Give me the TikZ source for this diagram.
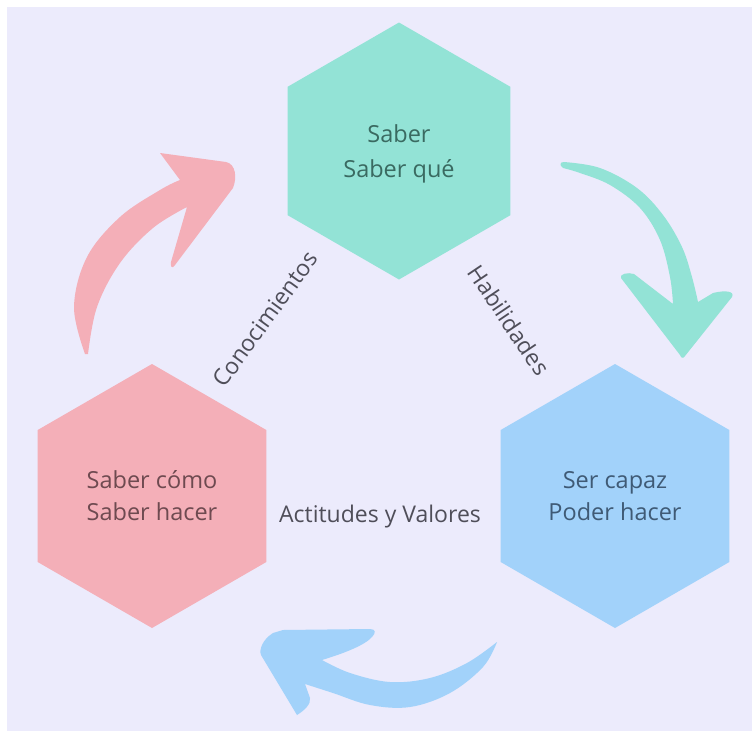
\documentclass[tikz,border=0pt]{standalone}
\usepackage{fontspec}
\setmainfont{Open Sans}
\usetikzlibrary{shapes.geometric}
\definecolor{bgc}{HTML}{ECEBFC}
\definecolor{tealc}{HTML}{93E3D6}
\definecolor{pinkc}{HTML}{F4AFB8}
\definecolor{bluec}{HTML}{A2D2FA}
\definecolor{tealt}{HTML}{3A6A61}
\definecolor{pinkt}{HTML}{6E4A50}
\definecolor{bluet}{HTML}{3F5A75}
\definecolor{labt}{HTML}{4F4E59}
\begin{document}
\begin{tikzpicture}[x=1pt,y=-1pt,
  hexbox/.style={regular polygon, regular polygon sides=6, shape border rotate=30,
    inner sep=0pt, outer sep=0pt, align=center,
    font=\fontsize{23.5}{32}\selectfont},
  lab/.style={text=labt, inner sep=0pt, font=\fontsize{23}{28}\selectfont}]
\useasboundingbox (0,0) rectangle (752,731);
\fill[white] (0,0) rectangle (752,731);
\fill[bgc] (7,7) rectangle (752,731);

% arrows
\fill[pinkc] (85,354) -- plot[smooth, tension=0.6] coordinates {(85,354) (74,307) (87,257) (120,217) (160,190) (180,180)}
  -- (160,153) -- (226,162) .. controls (236,164) and (237,178) .. (233,188)
  -- (175,265) .. controls (172,270) and (170,266) .. (171,262)
  -- (187,207) -- plot[smooth, tension=0.6] coordinates {(187,207) (153,228) (120,263) (97,307) (88,354)} -- cycle;

\fill[tealc] (563,168) .. controls (559,165) and (560,162) .. (564,162)
  -- plot[smooth, tension=0.6] coordinates {(564,162) (600,168) (637,188) (663,215) (682,247) (692,277) (698,302)}
  -- (713,293) .. controls (725,290) and (735,291) .. (732,297)
  -- (685,356) .. controls (683,359) and (681,358) .. (680,355)
  -- (621,278) .. controls (619,274) and (628,272) .. (634,274)
  -- (673,304) -- plot[smooth, tension=0.6] coordinates {(673,304) (670,277) (660,240) (640,208) (610,185) (580,173) (563,168)} -- cycle;

\fill[bluec] (497,642) -- plot[smooth, tension=0.6] coordinates {(497,642) (483,667) (450,693) (410,707) (370,705) (333,693) (305,684)}
  -- (310,698) .. controls (311,704) and (305,710) .. (297,715)
  -- (261,655) .. controls (259,650) and (262,640) .. (273,633)
  -- (283,630) -- (370,629) .. controls (376,629) and (376,633) .. (372,637)
  .. controls (365,645) and (345,653) .. (322,660)
  -- plot[smooth, tension=0.6] coordinates {(322,660) (350,673) (390,682) (430,678) (467,663) (497,642)} -- cycle;

% hexagons
\node[hexbox, fill=tealc, minimum size=257pt] (saber) at (399,151) {};
\node[text=tealt, align=center, inner sep=0pt, font=\fontsize{23.5}{35}\selectfont] (sabertxt) at (399,154) {Saber\\Saber qué};
\node[hexbox, fill=pinkc, text=pinkt, minimum size=264pt] (como) at (152,496) {Saber cómo\\Saber hacer};
\node[hexbox, fill=bluec, text=bluet, minimum size=264pt] (capaz) at (615,496) {Ser capaz\\Poder hacer};

% labels
\node[lab, rotate=54] (conoc) at (265,319) {Conocimientos};
\node[lab, rotate=-56] (habil) at (509,320) {Habilidades};
\node[lab, anchor=base] (actit) at (380,522) {Actitudes y Valores};
\end{tikzpicture}
\end{document}
